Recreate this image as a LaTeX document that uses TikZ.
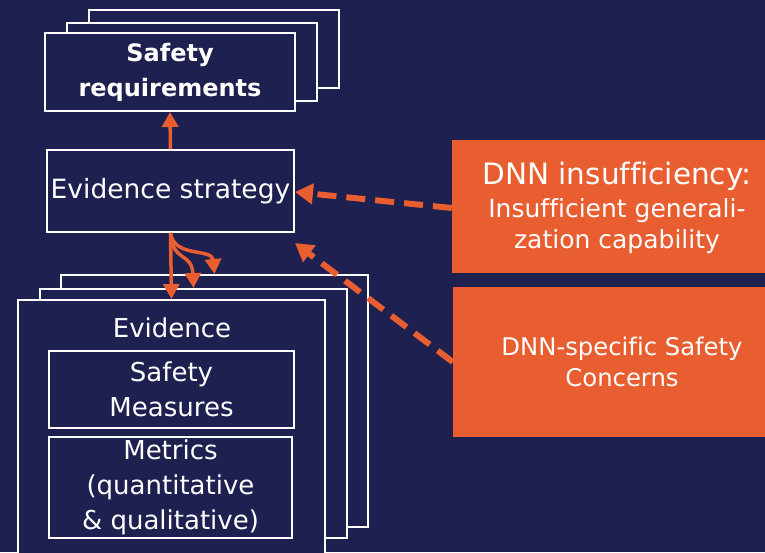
\documentclass[tikz,border=0pt]{standalone}
\usepackage{fontspec}
\setmainfont[Ligatures=NoCommon]{DejaVu Sans}
\usetikzlibrary{arrows.meta}
\definecolor{navy}{RGB}{30,32,80}
\definecolor{orng}{RGB}{232,94,48}
\begin{document}
\begin{tikzpicture}[x=1pt,y=-1pt,
  wbox/.style={draw=white,line width=2pt,fill=navy,inner sep=0pt,text=white,align=center},
  obox/.style={fill=orng,inner sep=0pt,text=white,align=center},
  oarrow/.style={draw=orng,line width=3.5pt,-{Triangle[length=15pt,width=16pt]}},
  darrow/.style={draw=orng,line width=6pt,dash pattern=on 19pt off 10pt,-{Triangle[length=18pt,width=20pt]}}]
\fill[navy] (0,0) rectangle (765,552);
\useasboundingbox (0,0) rectangle (765,552);
% Safety requirements stack
\node[wbox,minimum width=250pt,minimum height=78pt] (srb) at (214,49) {};
\node[wbox,minimum width=250pt,minimum height=78pt] (srm) at (192,62) {};
\node[wbox,minimum width=250pt,minimum height=78pt,font=\bfseries\fontsize{24}{35}\selectfont] (sr) at (170,72) {\raisebox{-2pt}{Safety}\\\raisebox{-2pt}{requirements}};
% Evidence strategy
\node[wbox,minimum width=247pt,minimum height=82pt,font=\fontsize{26.5}{35}\selectfont] (es) at (170.5,191) {Evidence strategy};
% Evidence stack
\node[wbox,minimum width=307pt,minimum height=252pt] (evb) at (214.5,401) {};
\node[wbox,minimum width=307pt,minimum height=249pt] (evm) at (193.5,413.5) {};
\node[wbox,minimum width=307pt,minimum height=262pt] (evf) at (171.5,431) {};
\node[text=white,font=\fontsize{26}{35}\selectfont] (evt) at (172,328) {Evidence};
\node[wbox,minimum width=245pt,minimum height=77pt,font=\fontsize{26}{35}\selectfont] (sm) at (171.5,389.5) {Safety\\Measures};
\node[wbox,minimum width=243pt,minimum height=101pt,font=\fontsize{26}{35}\selectfont] (me) at (170.5,487.5) {Metrics\\(quantitative\\\& qualitative)};
% Orange boxes
\node[obox,minimum width=330pt,minimum height=133pt] (o1) at (617,206.5) {};
\node[text=white,align=center,font=\fontsize{25}{31}\selectfont] (o1t) at (617,208) {{\fontsize{29.5}{33}\selectfont DNN insufficiency:}\\[2pt]Insufficient generali-\\zation capability};
\node[obox,minimum width=338pt,minimum height=150pt,font=\fontsize{24.3}{31}\selectfont] (o2) at (622,362) {DNN-specific Safety\\Concerns};
% Connectors
\draw[oarrow] (es.north) -- (sr.south);
\draw[oarrow] (es.south) -- (evf.north);
\draw[oarrow] (es.south) .. controls (172,262) and (192,252) .. (evm.north);
\draw[oarrow] (es.south) .. controls (174,258) and (212,248) .. (evb.north);
\coordinate (t1) at (295,192);
\coordinate (t2) at (295,243);
\draw[darrow] (o1.west |- 0,208) -- (t1);
\draw[darrow] (o2.west) -- (t2);
\end{tikzpicture}
\end{document}
